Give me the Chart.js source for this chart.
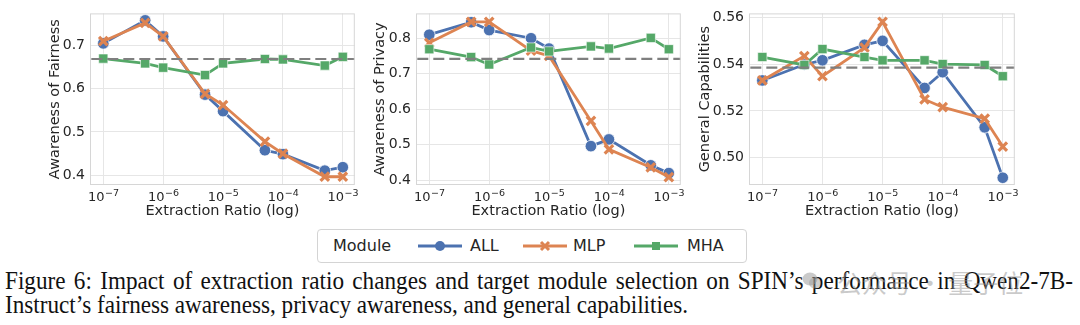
<!DOCTYPE html>
<html>
<head>
<meta charset="utf-8">
<script src="https://cdn.jsdelivr.net/npm/chart.js@4.4.1/dist/chart.umd.min.js"></script>
<style>
  html, body { margin: 0; padding: 0; background: #fff; }
  body { width: 1080px; height: 325px; position: relative; overflow: hidden; }
  .plot { position: absolute; top: 0; }
  #legend {
    position: absolute; left: 317px; top: 229px; width: 428px; height: 32px;
    border: 1px solid #d4d4d4; border-radius: 4px;
    font-family: "DejaVu Sans", sans-serif; font-size: 16px; color: #262626;
  }
  #legend span, #legend svg { position: absolute; }
  #legend span { top: 6px; }
  #legend svg { top: 9px; }
  .cap {
    position: absolute; left: 5px; white-space: nowrap;
    font-family: "Liberation Serif", "Times New Roman", serif; font-size: 25px;
    line-height: 24px; color: #111; transform-origin: 0 0;
  }
  #wm {
    position: absolute; left: 837px; top: 268px; white-space: nowrap;
    font-family: "Noto Sans CJK SC", sans-serif; font-size: 25px; line-height: 28px;
    color: rgba(150, 150, 150, 0.5);
  }
  #wmIcon {
    position: absolute; left: 802px; top: 271px;
  }
</style>
</head>
<body>
<div class="plot" style="left:0px;width:364px;height:222px"><canvas id="c1" width="364" height="222"></canvas></div>
<div class="plot" style="left:364px;width:326px;height:222px"><canvas id="c2" width="326" height="222"></canvas></div>
<div class="plot" style="left:690px;width:334px;height:222px"><canvas id="c3" width="334" height="222"></canvas></div>

<div id="legend">
  <span style="left:15px">Module</span>
  <svg style="left:100px" width="44" height="14"><line x1="0" y1="7" x2="44" y2="7" stroke="#4C72B0" stroke-width="3"/><circle cx="22" cy="7" r="5" fill="#4C72B0"/></svg>
  <span style="left:152px">ALL</span>
  <svg style="left:205px" width="44" height="14"><line x1="0" y1="7" x2="44" y2="7" stroke="#DD8452" stroke-width="3"/><path d="M18 3 L26 11 M26 3 L18 11" stroke="#DD8452" stroke-width="3"/></svg>
  <span style="left:255px">MLP</span>
  <svg style="left:316px" width="44" height="14"><line x1="0" y1="7" x2="44" y2="7" stroke="#55A868" stroke-width="3"/><rect x="18" y="3" width="8" height="8" fill="#55A868"/></svg>
  <span style="left:369px">MHA</span>
</div>

<div class="cap" id="cap1" style="top:269px">Figure 6: Impact of extraction ratio changes and target module selection on SPIN’s performance in Qwen2-7B-</div>
<div class="cap" id="cap2" style="top:293px">Instruct’s fairness awareness, privacy awareness, and general capabilities.</div>
<svg id="wmIcon" width="20" height="20"><ellipse cx="8" cy="8" rx="7.5" ry="6.5" fill="rgba(150,150,150,0.5)"/><ellipse cx="13" cy="12" rx="6" ry="5.5" fill="rgba(150,150,150,0.45)"/></svg>
<div id="wm">公众号 · 量子位</div>

<script>
// extraction ratios (x)
const ratios = [1e-7, 5e-7, 1e-6, 5e-6, 1e-5, 5e-5, 1e-4, 5e-4, 1e-3];
const xTicks = [1e-7, 1e-6, 1e-5, 1e-4, 1e-3];

// awareness of fairness
const fairAll = [0.704, 0.757, 0.720, 0.586, 0.548, 0.458, 0.449, 0.411, 0.419];
const fairMlp = [0.709, 0.751, 0.720, 0.588, 0.562, 0.478, 0.450, 0.397, 0.397];
const fairMha = [0.669, 0.658, 0.648, 0.631, 0.658, 0.668, 0.667, 0.653, 0.673];
const fairBase = 0.668;
const fairTicks = [0.4, 0.5, 0.6, 0.7];

// awareness of privacy
const privAll = [0.810, 0.845, 0.823, 0.800, 0.771, 0.496, 0.515, 0.442, 0.420];
const privMlp = [0.787, 0.846, 0.846, 0.765, 0.750, 0.567, 0.487, 0.436, 0.409];
const privMha = [0.769, 0.747, 0.726, 0.774, 0.763, 0.777, 0.771, 0.801, 0.769];
const privBase = 0.742;
const privTicks = [0.4, 0.5, 0.6, 0.7, 0.8];

// general capabilities
const genAll = [0.5330, 0.5398, 0.5416, 0.5482, 0.5499, 0.5298, 0.5365, 0.5130, 0.4915];
const genMlp = [0.5330, 0.5434, 0.5348, 0.5470, 0.5580, 0.5249, 0.5216, 0.5167, 0.5048];
const genMha = [0.5430, 0.5396, 0.5464, 0.5430, 0.5416, 0.5416, 0.5400, 0.5396, 0.5348];
const genBase = 0.5385;
const genTicks = [0.50, 0.52, 0.54, 0.56];

const BLUE = "#4C72B0", ORANGE = "#DD8452", GREEN = "#55A868";
const TEXT = "#262626";
const X_MIN = Math.pow(10, -7.2), X_MAX = Math.pow(10, -2.8);

function pts(vals) {
  return vals.map((v, i) => ({ x: ratios[i], y: v }));
}

// full light frame round the plot area
const framePlugin = {
  id: "frame",
  afterDraw(chart) {
    const a = chart.chartArea, ctx = chart.ctx;
    ctx.save();
    ctx.strokeStyle = "#d6d6d6";
    ctx.lineWidth = 1;
    ctx.strokeRect(a.left + 0.5, a.top + 0.5, a.right - a.left - 1, a.bottom - a.top - 1);
    ctx.restore();
  }
};

// 10^n tick labels with a real raised exponent
const powerLabels = {
  id: "powerLabels",
  afterDraw(chart) {
    const sx = chart.scales.x, ctx = chart.ctx;
    const base = chart.chartArea.bottom + 16;
    ctx.save();
    ctx.fillStyle = TEXT;
    ctx.textBaseline = "alphabetic";
    ctx.textAlign = "left";
    xTicks.forEach(v => {
      const exp = "\u2212" + String(Math.abs(Math.round(Math.log10(v))));
      ctx.font = "13px 'DejaVu Sans'";
      const w1 = ctx.measureText("10").width;
      ctx.font = "9.5px 'DejaVu Sans'";
      const w2 = ctx.measureText(exp).width;
      const x0 = sx.getPixelForValue(v) - (w1 + w2) / 2;
      ctx.font = "13px 'DejaVu Sans'";
      ctx.fillText("10", x0, base);
      ctx.font = "9.5px 'DejaVu Sans'";
      ctx.fillText(exp, x0 + w1 + 0.5, base - 5);
    });
    ctx.restore();
  }
};

function makeChart(id, all, mlp, mha, base, yTicks, yMin, yMax, dec, yTitle, padLeft, yWidth) {
  new Chart(document.getElementById(id), {
    type: "line",
    data: {
      datasets: [
        { label: "ALL", data: pts(all), borderColor: BLUE, backgroundColor: BLUE,
          borderWidth: 2.8, pointStyle: "circle", pointRadius: 5.8,
          pointBorderColor: "#ffffff", pointBorderWidth: 0.8, order: 4 },
        { label: "MLP", data: pts(mlp), borderColor: ORANGE, backgroundColor: ORANGE,
          borderWidth: 2.8, pointStyle: "crossRot", pointRadius: 6,
          pointBorderColor: ORANGE, pointBorderWidth: 3.2, order: 3 },
        { label: "MHA", data: pts(mha), borderColor: GREEN, backgroundColor: GREEN,
          borderWidth: 2.8, pointStyle: "rect", pointRadius: 6.5,
          pointBorderColor: "#ffffff", pointBorderWidth: 0.6, order: 2 },
        { label: "base", data: [{ x: X_MIN, y: base }, { x: X_MAX, y: base }],
          borderColor: "#7f7f7f", borderWidth: 2.2, borderDash: [11, 5],
          pointRadius: 0, order: 1 }
      ]
    },
    options: {
      responsive: false,
      animation: false,
      layout: { padding: { left: padLeft, top: 6, right: 2, bottom: 0 } },
      plugins: { legend: { display: false }, tooltip: { enabled: false } },
      scales: {
        x: {
          type: "logarithmic", min: X_MIN, max: X_MAX,
          afterBuildTicks: (s) => { s.ticks = xTicks.map(v => ({ value: v })); },
          afterFit: (s) => { s.height = 37; },
          grid: { color: "#e6e6e6", drawTicks: false },
          border: { display: false },
          ticks: { autoSkip: false, maxRotation: 0, callback: () => "" },
          title: { display: true, text: "Extraction Ratio (log)", color: TEXT,
            font: { family: "DejaVu Sans", size: 14.5 }, padding: { top: 0, bottom: 2 } }
        },
        y: {
          min: yMin, max: yMax,
          afterBuildTicks: (s) => { s.ticks = yTicks.map(v => ({ value: v })); },
          afterFit: (s) => { s.width = yWidth; },
          grid: { color: "#e6e6e6", drawTicks: false },
          border: { display: false },
          ticks: { padding: 5, color: TEXT, font: { family: "DejaVu Sans", size: 14 },
            callback: (v) => Number(v).toFixed(dec) },
          title: { display: true, text: yTitle, color: TEXT,
            font: { family: "DejaVu Sans", size: 14.5 }, padding: 0 }
        }
      }
    },
    plugins: [framePlugin, powerLabels]
  });
}

makeChart("c1", fairAll, fairMlp, fairMha, fairBase, fairTicks, 0.378, 0.773, 1, "Awareness of Fairness", 47, 43);
makeChart("c2", privAll, privMlp, privMha, privBase, privTicks, 0.3865, 0.870, 1, "Awareness of Privacy", 8, 44);
makeChart("c3", genAll, genMlp, genMha, genBase, genTicks, 0.4884, 0.5616, 2, "General Capabilities", 7, 52);

// caption: squeeze to the last line's width, then justify the first line
const cap1 = document.getElementById("cap1");
const cap2 = document.getElementById("cap2");
const k = 683 / cap2.getBoundingClientRect().width;
const w1 = cap1.getBoundingClientRect().width;
const gaps = cap1.textContent.split(" ").length - 1;
cap1.style.wordSpacing = ((1068 / k - w1) / gaps) + "px";
cap1.style.transform = "scaleX(" + k + ")";
cap2.style.transform = "scaleX(" + k + ")";
</script>
</body>
</html>
